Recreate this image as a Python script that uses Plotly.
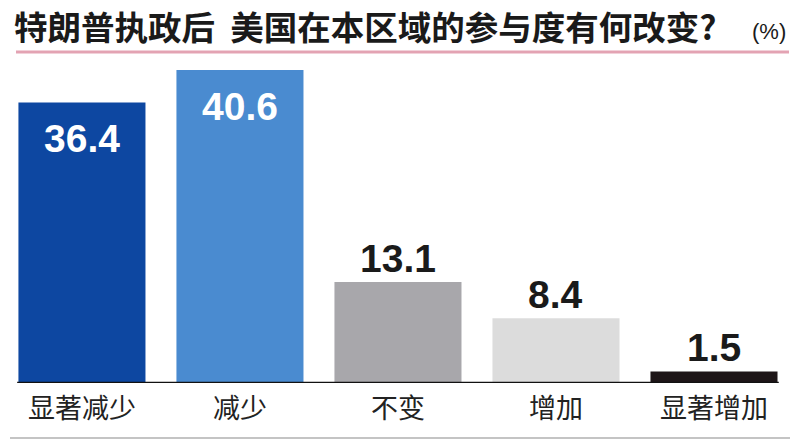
import plotly.graph_objects as go

categories = ["显著减少", "减少", "不变", "增加", "显著增加"]
values = [36.4, 40.6, 13.1, 8.4, 1.5]
bar_colors = ["#0d47a1", "#4a8bd0", "#a8a7ab", "#dcdcdc", "#1e1618"]
label_inside = [True, True, False, False, False]

title_text = "特朗普执政后  美国在本区域的参与度有何改变?"
unit_text = "(%)"

# page body has an 8px margin; figure occupies window pixels 8..800 x 8..444
OFF = 8
W, H = 800 - OFF, 444 - OFF
ml, mr, mt, mb = 0, 7, 52, 61
PW, PH = W - ml - mr, H - mt - mb


def px(X):
    return (X - OFF - ml) / PW


def py(Y):
    return (H - mb - (Y - OFF)) / PH


fig = go.Figure()
fig.add_trace(go.Bar(
    x=categories, y=values,
    marker=dict(color=bar_colors, line=dict(width=0)),
    width=0.804,
    hoverinfo="skip",
))

for c, v, inside in zip(categories, values, label_inside):
    fig.add_annotation(
        x=c, y=v, xref="x", yref="y",
        text=f"<b>{v:.1f}</b>", showarrow=False,
        yanchor="top" if inside else "bottom",
        yshift=-13 if inside else 0,
        font=dict(family="Liberation Sans, Arial, sans-serif", size=39,
                  color="white" if inside else "#1a1a1a"),
    )

fig.add_annotation(
    x=px(13), y=py(26), xref="paper", yref="paper",
    text=f"<b>{title_text}</b>",
    showarrow=False, xanchor="left", yanchor="middle", borderpad=0,
    font=dict(family="Noto Sans CJK SC", size=33.5, color="#1a1a1a"),
)
fig.add_annotation(
    x=px(750), y=py(31), xref="paper", yref="paper", text=unit_text,
    showarrow=False, xanchor="left", yanchor="middle",
    font=dict(family="Liberation Sans, Arial, sans-serif", size=22, color="#1a1a1a"),
)

fig.update_layout(
    width=W, height=H,
    margin=dict(l=ml, r=mr, t=mt, b=mb),
    paper_bgcolor="white", plot_bgcolor="white",
    showlegend=False,
    xaxis=dict(
        range=[-0.468, 4.5], showgrid=False, zeroline=False, showline=False,
        ticks="", ticklabelstandoff=7, fixedrange=True,
        tickfont=dict(family="Noto Sans CJK SC", size=27, color="#222222"),
    ),
    yaxis=dict(range=[0, 41.9], visible=False, showgrid=False, zeroline=False,
               fixedrange=True),
    shapes=[
        dict(type="line", xref="x", yref="y", x0=-0.41, x1=4.41, y0=0, y1=0,
             line=dict(color="#111111", width=2.5)),
        dict(type="line", xref="paper", yref="paper",
             x0=px(16), x1=px(789), y0=py(52), y1=py(52),
             line=dict(color="#e3a3b3", width=3)),
        dict(type="line", xref="paper", yref="paper",
             x0=px(10), x1=px(790), y0=py(438), y1=py(438),
             line=dict(color="#c4c4c4", width=2)),
    ],
)

fig.write_html("out.html", config={"displayModeBar": False})
